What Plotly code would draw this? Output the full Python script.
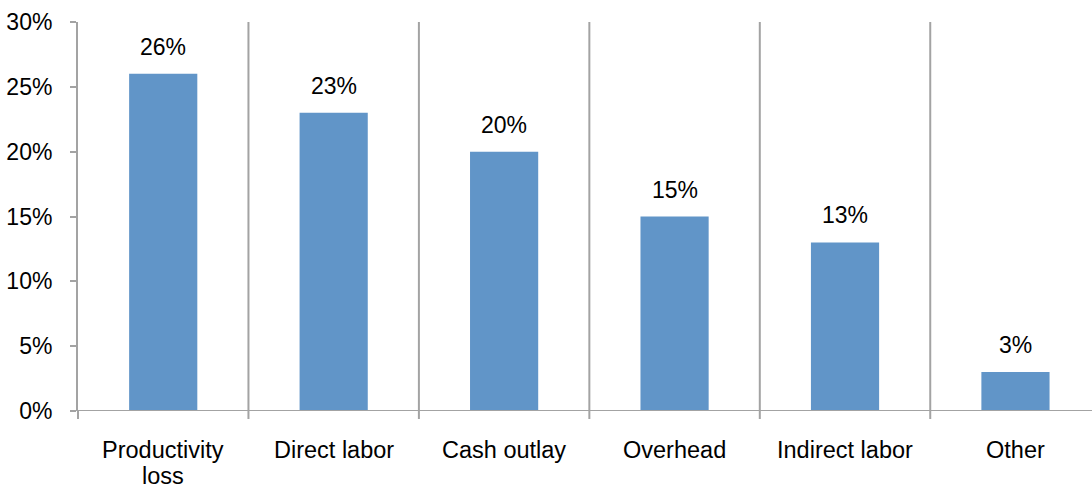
import plotly.graph_objects as go

# Cost breakdown by category (share of total)
categories = ["Productivity<br>loss", "Direct labor", "Cash outlay", "Overhead", "Indirect labor", "Other"]
shares = [26, 23, 20, 15, 13, 3]
y_ticks = [0, 5, 10, 15, 20, 25, 30]
y_tick_labels = [f"{v}%" for v in y_ticks]

BAR_COLOR = "#6195C8"
LINE_COLOR = "#A3A3A3"
FONT = "Liberation Sans, Arial, sans-serif"

x_idx = list(range(len(categories)))

fig = go.Figure()
fig.add_trace(go.Bar(
    x=x_idx,
    y=shares,
    width=0.4,
    marker=dict(color=BAR_COLOR, line=dict(width=0)),
    hoverinfo="skip",
))

# Value labels above each bar
for xi, v in zip(x_idx, shares):
    fig.add_annotation(
        x=xi, y=v, text=f"{v}%", showarrow=False,
        xref="x", yref="y", yanchor="middle", yshift=27,
        font=dict(family=FONT, size=23, color="#000000"),
    )

# Category labels under the axis, one annotation per text line
for xi, label in zip(x_idx, categories):
    for li, line in enumerate(label.split("<br>")):
        fig.add_annotation(
            x=xi, y=0, text=line, showarrow=False, borderpad=0,
            xref="x", yref="y", yanchor="middle", yshift=-39 - 26 * li,
            font=dict(family=FONT, size=23.5, color="#000000"),
        )

fig.update_layout(
    width=1092, height=489,
    margin=dict(l=78, r=0, t=22, b=78),
    paper_bgcolor="white", plot_bgcolor="white",
    showlegend=False,
    font=dict(family=FONT, size=23, color="#000000"),
)

fig.update_xaxes(
    type="linear",
    range=[-0.5, 5.449],
    showticklabels=False,
    showgrid=False,
    showline=False,
    ticks="",
    zeroline=False,
)

# Category separators (vertical lines at boundaries, extending below the axis)
for b in x_idx[:-1]:
    xb = b + 0.5
    fig.add_shape(
        type="line", xref="x", yref="paper",
        x0=xb, x1=xb, y0=1, y1=-0.0206,
        line=dict(color=LINE_COLOR, width=2),
        layer="below",
    )

fig.update_yaxes(
    range=[0, 30],
    tickmode="array",
    tickvals=y_ticks,
    ticktext=y_tick_labels,
    showgrid=False,
    zeroline=False,
    showline=True,
    linecolor=LINE_COLOR,
    linewidth=2,
    ticks="outside",
    ticklen=6,
    tickwidth=2,
    tickcolor=LINE_COLOR,
    tickfont=dict(family=FONT, size=23, color="#000000"),
    ticklabelstandoff=13,
)

# Horizontal baseline across the plot, plus the axis line stub below zero
fig.add_shape(
    type="line", xref="paper", yref="y",
    x0=0, x1=1, y0=0, y1=0,
    line=dict(color=LINE_COLOR, width=2),
)
fig.add_shape(
    type="line", xref="paper", yref="paper",
    x0=0, x1=0, y0=0, y1=-0.0206,
    line=dict(color=LINE_COLOR, width=2),
)

fig.write_html("out.html")
